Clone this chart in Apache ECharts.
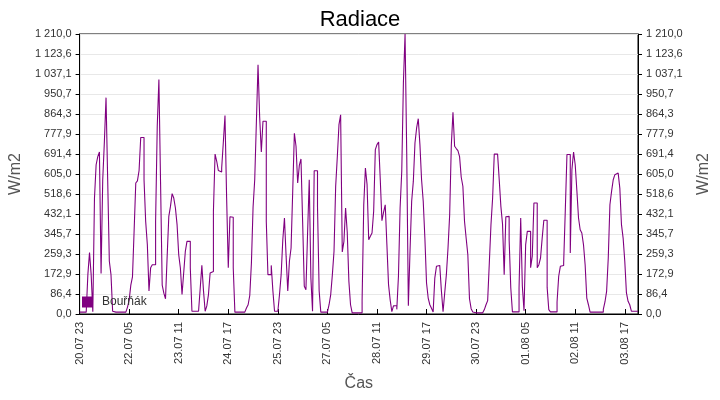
<!DOCTYPE html>
<html>
<head>
<meta charset="utf-8">
<title>Radiace</title>
<script src="https://cdn.jsdelivr.net/npm/echarts@6/dist/echarts.min.js"></script>
<style>
  html, body { margin: 0; padding: 0; background: #fff; }
  #chart { width: 720px; height: 400px; }
</style>
</head>
<body>
<div id="chart"></div>
<script>
// hodinove hodnoty radiace (W/m2), od 20.07 23:00
var radiace1 = [8,8,8,8,8,170,266,170,10,500,645,680,700,175,580,745,935,580,228,170,12,
    8,8,8,8,8,8,8,8,30,60,125,160,360,566,575,620,763,763,580,400,300,100,200,213,213,400,811];
var radiace2 = [1013,570,125,90,66,250,422,465,520,501,458,386,256,199,84,177,271,314,314,200,
    12,12,12,12,12,110,210,100,12,35,84,177,184,444,691,660,620,614,631,742,858,500,200,420,418,200,8,8];
var radiace3 = [8,8,8,8,8,26,40,80,220,461,580,828,1077,850,700,833,833,400,170,170,210,100,12,12,19,
    84,170,321,415,250,100,228,285,530,781,725,566,642,670,400,120,105,350,580,155,12,619,619];
var radiace4 = [465,100,8,8,8,8,8,40,84,170,271,552,681,818,861,268,314,458,354,141,40,5,5,5,5,5,5,
    60,472,631,560,321,336,350,444,710,732,743,580,403,440,472,300,127,60,10,35,37];
var radiace5 = [20,163,458,617,1000,1210,700,36,271,487,573,739,804,844,732,580,487,328,134,69,
    40,25,9,155,206,210,210,100,10,91,170,285,429,729,872,725,715,706,680,591,552,400,326,256,66,23,9,5];
var radiace6 = [5,5,5,5,9,19,40,58,220,386,501,691,691,691,580,465,389,170,420,422,321,112,9,9,9,9,
    112,415,120,14,300,357,357,200,250,480,480,200,213,242,328,405,405,115,19,9,9,9];
var radiace7 = [9,52,163,206,210,220,450,689,689,264,624,700,645,533,415,364,350,300,213,69,40,
    8,8,8,8,8,8,8,8,20,52,98,242,472,530,580,602,609,609,544,386,328,228,91,55,40,12,12,12,12,12];

var tickLabels = ['20.07 23','22.07 05','23.07 11','24.07 17','25.07 23','27.07 05',
    '28.07 11','29.07 17','30.07 23','01.08 05','02.08 11','03.08 17'];
var labelStep = 30;

var values = radiace1.concat(radiace2, radiace3, radiace4, radiace5, radiace6, radiace7);
var hours = [];
for (var i = 0; i < values.length; i++) {
    hours.push(i);
}

function fmtNum(v) {
    var s = v.toFixed(1).replace('.', ',');
    var parts = s.split(',');
    parts[0] = parts[0].replace(/\B(?=(\d{3})+(?!\d))/g, ' ');
    return parts.join(',');
}

var myChart = echarts.init(document.getElementById('chart'));

var yBase = {
    type: 'value',
    min: 0,
    max: 1210,
    interval: 1210 / 14,
    name: 'W/m2',
    nameLocation: 'middle',
    nameRotate: 90,
    nameTextStyle: { fontSize: 16, color: '#555', fontFamily: 'Liberation Sans' },
    axisLine: { show: true, lineStyle: { color: '#000' } },
    axisTick: { show: true, length: 4, lineStyle: { color: '#000' } },
    axisLabel: {
        fontSize: 11, color: '#333', fontFamily: 'Liberation Sans',
        formatter: function (v) { return fmtNum(v); }
    }
};

var option = {
    animation: false,
    title: {
        text: 'Radiace',
        left: 'center',
        top: 4,
        textStyle: { fontSize: 22, fontWeight: 'normal', color: '#000', fontFamily: 'Liberation Sans' }
    },
    legend: {
        left: 77,
        top: 291,
        itemWidth: 11,
        itemHeight: 11,
        icon: 'rect',
        textStyle: { fontSize: 12, color: '#333', fontFamily: 'Liberation Sans', padding: [0, 0, 0, 4] },
        data: ['Bouřňák']
    },
    grid: {
        left: 76,
        right: 74,
        top: 34,
        bottom: 86,
        show: true,
        borderColor: '#000',
        borderWidth: 1
    },
    xAxis: {
        type: 'category',
        boundaryGap: false,
        data: hours,
        name: 'Čas',
        nameLocation: 'middle',
        nameGap: 62,
        nameTextStyle: { fontSize: 16, color: '#555', fontFamily: 'Liberation Sans' },
        axisLine: { lineStyle: { color: '#000' } },
        axisTick: {
            inside: true, length: 5,
            interval: function (idx) { return idx % labelStep === 0; },
            lineStyle: { color: '#000' }
        },
        axisLabel: {
            rotate: 90,
            fontSize: 11,
            color: '#333',
            fontFamily: 'Liberation Sans',
            interval: function (idx) { return idx % labelStep === 0; },
            formatter: function (v, idx) { return tickLabels[idx / labelStep] || ''; }
        },
        splitLine: { show: false }
    },
    yAxis: [
        Object.assign({}, yBase, {
            position: 'left',
            nameGap: 52,
            splitLine: { show: true, lineStyle: { color: '#e8e8e8' } }
        }),
        Object.assign({}, yBase, {
            position: 'right',
            nameGap: 58,
            splitLine: { show: false }
        })
    ],
    series: [
        {
            name: 'Bouřňák',
            type: 'line',
            step: 'end',
            showSymbol: false,
            symbol: 'none',
            itemStyle: { color: '#800080' },
            lineStyle: { color: '#800080', width: 1.1 },
            data: values
        }
    ]
};

myChart.setOption(option);
</script>
</body>
</html>
